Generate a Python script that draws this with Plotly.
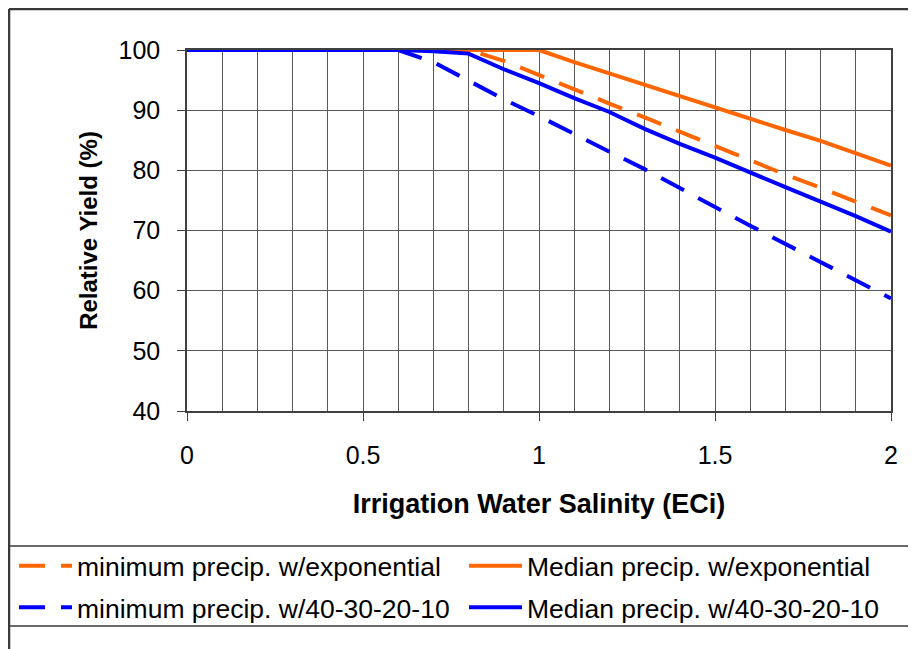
import plotly.graph_objects as go

# ---- data ----
salinity = [0.0, 0.1, 0.2, 0.3, 0.4, 0.5, 0.6, 0.7, 0.8, 0.9, 1.0,
            1.1, 1.2, 1.3, 1.4, 1.5, 1.6, 1.7, 1.8, 1.9, 2.0]
min_exp = [100, 100, 100, 100, 100, 100, 100, 100, 100, 98.2, 95.8,
           93.5, 91.1, 88.8, 86.4, 84.0, 81.6, 79.3, 77.1, 74.8, 72.5]
med_exp = [100, 100, 100, 100, 100, 100, 100, 100, 100, 100, 100,
           98.0, 96.1, 94.3, 92.4, 90.4, 88.6, 86.7, 84.9, 82.9, 80.8]
min_4321 = [100, 100, 100, 100, 100, 100, 100, 98.0, 94.9, 91.8, 89.0,
            86.0, 83.1, 80.2, 77.0, 73.9, 70.8, 67.8, 64.8, 61.7, 58.7]
med_4321 = [100, 100, 100, 100, 100, 100, 100, 99.8, 99.4, 96.8, 94.5,
            92.0, 89.7, 86.9, 84.4, 82.1, 79.6, 77.2, 74.8, 72.4, 69.8]

names = ["minimum precip. w/exponential", "Median precip. w/exponential",
         "minimum precip. w/40-30-20-10", "Median precip. w/40-30-20-10"]
series = [min_exp, med_exp, min_4321, med_4321]
colors = ["#FF6600", "#FF6600", "#0000FF", "#0000FF"]
dashes = ["26px,16px", "solid", "26px,16px", "solid"]
legend_ids = ["legend", "legend2", "legend", "legend2"]

x_title = "Irrigation Water Salinity (ECi)"
y_title = "Relative Yield (%)"

FONT = "Liberation Sans, Arial, sans-serif"

fig = go.Figure()
for i, (nm, ys, c, d, lg) in enumerate(zip(names, series, colors, dashes,
                                            legend_ids)):
    fig.add_trace(go.Scatter(x=salinity, y=ys, name=nm, mode="lines",
                             legend=lg, legendgroup="g%d" % i,
                             line=dict(color=c, width=4, dash=d)))

# page body has an 8px default margin, so the figure is offset by 8px
OFF = 8
W, H = 916 - OFF, 649 - OFF
L, R, T, B = 179, 25, 42, 238
pw, ph = W - L - R, H - T - B


def px(sx):
    """screen x pixel -> paper x"""
    return (sx - OFF - L) / pw


def py(sy):
    """screen y pixel -> paper y"""
    return (H - B - (sy - OFF)) / ph


grid_col = "#595959"
axis_col = "#404040"

leg_common = dict(orientation="v", yanchor="top", xanchor="left",
                  font=dict(size=26.5, family=FONT, color="black"),
                  itemwidth=53, bgcolor="rgba(0,0,0,0)",
                  traceorder="grouped", tracegroupgap=4, borderwidth=0)

fig.update_layout(
    width=W, height=H,
    margin=dict(l=L, r=R, t=T, b=B, pad=0, autoexpand=False),
    paper_bgcolor="white", plot_bgcolor="white",
    font=dict(family=FONT, color="black"),
    showlegend=True,
    legend=dict(x=px(14), y=py(542), **leg_common),
    legend2=dict(x=px(464), y=py(542), **leg_common),
    xaxis=dict(range=[0, 2], dtick=0.5, tick0=0,
               showgrid=True, gridcolor=grid_col, gridwidth=1,
               minor=dict(dtick=0.1, showgrid=True, gridcolor=grid_col,
                          gridwidth=1, ticks=""),
               ticks="outside", ticklen=8, tickcolor=axis_col,
               showline=True, linecolor=axis_col, linewidth=1.5, mirror=True,
               zeroline=False, tickfont=dict(size=25),
               ticklabelstandoff=13, automargin=False,
               title=dict(text="<b>" + x_title + "</b>", font=dict(size=27),
                          standoff=26)),
    yaxis=dict(range=[40, 100], dtick=10,
               showgrid=True, gridcolor=grid_col, gridwidth=1,
               ticks="outside", ticklen=8, tickcolor=axis_col,
               showline=True, linecolor=axis_col, linewidth=1.5, mirror=True,
               zeroline=False, tickfont=dict(size=25),
               ticklabelstandoff=12, automargin=False,
               title=dict(text="<b>" + y_title + "</b>", font=dict(size=24),
                          standoff=14)),
)

frame_col = "#3a3a3a"
# outer chart-area frame (left and top edges visible)
fig.add_shape(type="line", xref="paper", yref="paper",
              x0=px(9), x1=px(930), y0=py(9), y1=py(9),
              line=dict(color=frame_col, width=2.5))
fig.add_shape(type="line", xref="paper", yref="paper",
              x0=px(9), x1=px(9), y0=py(9), y1=py(660),
              line=dict(color=frame_col, width=2.5))
# legend box
fig.add_shape(type="rect", xref="paper", yref="paper",
              x0=px(9), x1=px(915), y0=py(546), y1=py(626),
              line=dict(color=frame_col, width=1.5))

fig.write_html("out.html")
